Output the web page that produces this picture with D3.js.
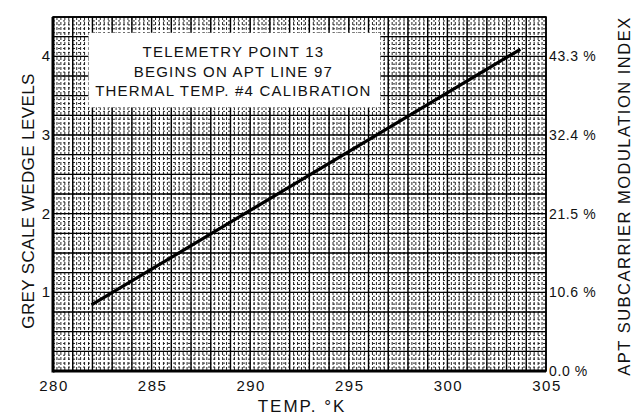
<!DOCTYPE html>
<html><head><meta charset="utf-8">
<script src="https://cdn.jsdelivr.net/npm/d3@7/dist/d3.min.js"></script>
<style>body{margin:0;background:#fff}svg{display:block}text{font-family:"Liberation Sans",Arial,sans-serif;fill:#111}</style>
</head><body><svg id="c" width="640" height="417"></svg>
<script>
// Data
const tempDomain = [280, 305];
const levelDomain = [0, 4.5];
const xTicks = [280, 285, 290, 295, 300, 305];
const yTicks = [1, 2, 3, 4];
const rightTickLevels = [0, 1, 2, 3, 4];
const rightTickLabels = ["0.0 %", "10.6 %", "21.5 %", "32.4 %", "43.3 %"];
const lineTemps = [281.95, 287.45, 303.7];
const lineLevels = [0.84, 1.66, 4.09];
const noteLines = ["TELEMETRY POINT 13", "BEGINS ON APT LINE 97", "THERMAL TEMP. #4 CALIBRATION"];
const noteBox = {t0: 281.8, t1: 296.6, l0: 3.35, l1: 4.3};

const svg = d3.select("#c");
const L = 53, R = 546, T = 17, B = 371;
const x = d3.scaleLinear().domain(tempDomain).range([L, R]);
const y = d3.scaleLinear().domain(levelDomain).range([B, T]);

// minor texture grid
const minorX = d3.range(tempDomain[0], tempDomain[1] + 1e-9, 0.2);
const minorY = d3.range(levelDomain[0], levelDomain[1] + 1e-9, 0.05);
const g = svg.append("g");
g.selectAll("line.mx").data(minorX).join("line")
  .attr("x1", d => x(d)).attr("x2", d => x(d)).attr("y1", T).attr("y2", B)
  .attr("stroke", "#111").attr("stroke-width", 0.9).attr("stroke-dasharray", "3,2");
g.selectAll("line.my").data(minorY).join("line")
  .attr("y1", d => y(d)).attr("y2", d => y(d)).attr("x1", L).attr("x2", R)
  .attr("stroke", "#111").attr("stroke-width", 0.9).attr("stroke-dasharray", "2,3");

// major grid
const majorX = d3.range(tempDomain[0], tempDomain[1] + 1e-9, 1);
const majorY = d3.range(levelDomain[0], levelDomain[1] + 1e-9, 0.25);
g.selectAll("line.Mx").data(majorX).join("line")
  .attr("x1", d => x(d)).attr("x2", d => x(d)).attr("y1", T).attr("y2", B)
  .attr("stroke", "#000").attr("stroke-width", 1.4);
g.selectAll("line.My").data(majorY).join("line")
  .attr("y1", d => y(d)).attr("y2", d => y(d)).attr("x1", L).attr("x2", R)
  .attr("stroke", "#000").attr("stroke-width", 1.4);

// frame
svg.append("rect").attr("x", L).attr("y", T).attr("width", R - L).attr("height", B - T)
  .attr("fill", "none").attr("stroke", "#000").attr("stroke-width", 1.6);
svg.append("line").attr("x1", L).attr("x2", L).attr("y1", T).attr("y2", B + 1.5).attr("stroke", "#000").attr("stroke-width", 3);
svg.append("line").attr("x1", L).attr("x2", R).attr("y1", B).attr("y2", B).attr("stroke", "#000").attr("stroke-width", 3);

// note box
svg.append("rect").attr("x", x(noteBox.t0)).attr("y", y(noteBox.l1))
  .attr("width", x(noteBox.t1) - x(noteBox.t0)).attr("height", y(noteBox.l0) - y(noteBox.l1))
  .attr("fill", "#fff");
const cx = (x(noteBox.t0) + x(noteBox.t1)) / 2 - 1;
svg.selectAll("text.note").data(noteLines).join("text")
  .attr("x", cx).attr("y", (d, i) => 57 + i * 19.5)
  .attr("text-anchor", "middle").attr("font-size", 15).attr("letter-spacing", 1.2).text(d => d);

// line
const pts = lineTemps.map((t, i) => [t, lineLevels[i]]);
svg.append("path").attr("d", d3.line().x(d => x(d[0])).y(d => y(d[1]))(pts))
  .attr("fill", "none").attr("stroke", "#000").attr("stroke-width", 3.2);

// axes labels
svg.selectAll("text.xt").data(xTicks).join("text")
  .attr("x", d => x(d) + 1).attr("y", 391).attr("text-anchor", "middle").attr("font-size", 15).attr("letter-spacing", 1.5).text(d => d);
svg.selectAll("text.yt").data(yTicks).join("text")
  .attr("x", 46).attr("y", d => y(d) + 5).attr("text-anchor", "middle").attr("font-size", 15).text(d => d);
svg.selectAll("text.rt").data(rightTickLevels).join("text")
  .attr("x", 549).attr("y", (d) => y(d) + 5).attr("font-size", 14).attr("letter-spacing", 0.6).text((d, i) => rightTickLabels[i]);

svg.append("text").attr("transform", "translate(34,201) rotate(-90)").attr("text-anchor", "middle")
  .attr("font-size", 17).attr("letter-spacing", 0.4).text("GREY SCALE WEDGE LEVELS");
svg.append("text").attr("transform", "translate(630,196) rotate(-90)").attr("text-anchor", "middle")
  .attr("font-size", 16.5).attr("letter-spacing", 1.5).text("APT SUBCARRIER MODULATION INDEX");
svg.append("text").attr("x", 302).attr("y", 412).attr("text-anchor", "middle")
  .attr("font-size", 17).attr("letter-spacing", 2).text("TEMP. °K");
</script></body></html>
